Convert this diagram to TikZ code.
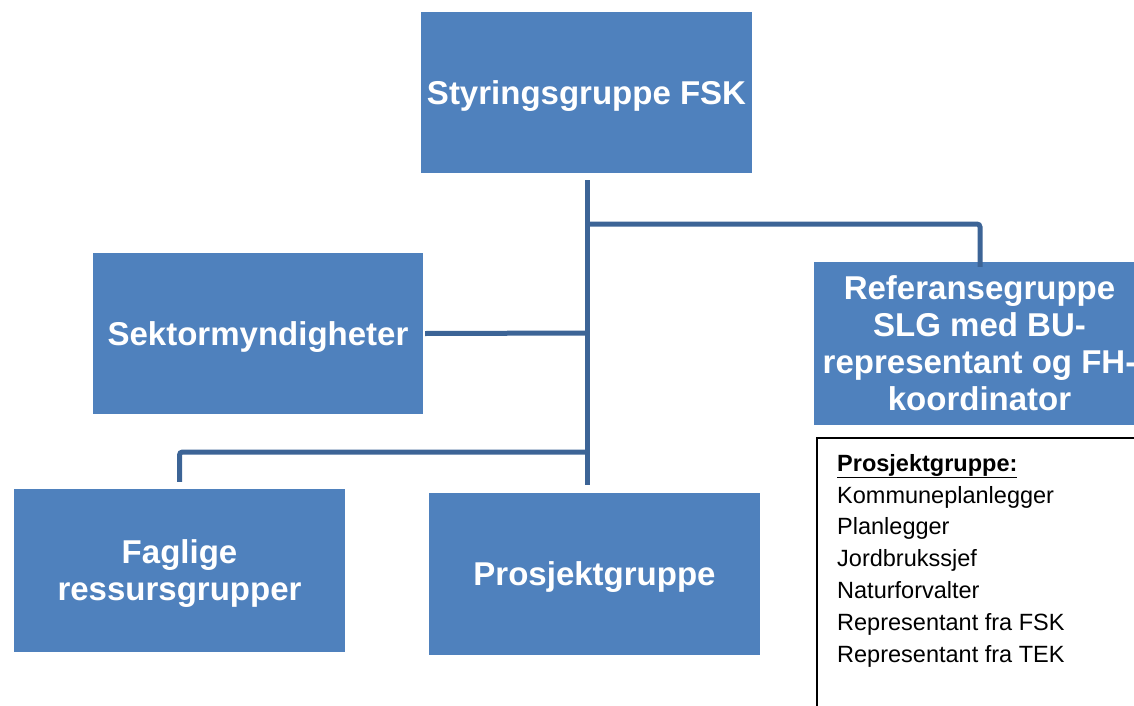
\documentclass[tikz,border=0pt]{standalone}
\usepackage{fontspec}
\setmainfont{Liberation Sans}
\definecolor{boxblue}{HTML}{4F81BD}
\definecolor{linkblue}{HTML}{3C6496}
\begin{document}
\begin{tikzpicture}[x=1pt,y=-1pt,
  orgbox/.style={rectangle, fill=boxblue, draw=none, text=white, align=center,
    font=\fontsize{33}{37}\selectfont\bfseries, inner sep=0pt, text depth=0pt},
  conn/.style={draw=linkblue, line width=5pt, rounded corners=3pt},
  listbox/.style={draw=black, line width=1.8pt, fill=white}]
\useasboundingbox (0,0) rectangle (1134,706);
\clip (0,0) rectangle (1134,706);
\node[orgbox, minimum width=331pt, minimum height=161pt] (top) at (586.5,92.5) {Styringsgruppe FSK};
\node[orgbox, minimum width=330pt, minimum height=161pt] (sektor) at (258,333.5) {Sektormyndigheter};
\node[orgbox, minimum width=331pt, minimum height=163pt] (ref) at (979.5,343.5) {Referansegruppe\\SLG med BU-\\representant og FH-\\koordinator};
\node[orgbox, minimum width=331pt, minimum height=163pt] (fag) at (179.5,570.5) {Faglige\\ressursgrupper};
\node[orgbox, minimum width=331pt, minimum height=162pt] (proj) at (594.5,574) {Prosjektgruppe};
% list box
\node[listbox, anchor=north west, minimum width=340pt, minimum height=290pt] (list) at (816,437) {};
\node[anchor=north west, align=left, inner sep=0pt, font=\fontsize{23.5}{31.8}\selectfont] (listtext) at (837,454)
  {\textbf{\underline{Prosjektgruppe:}}\\Kommuneplanlegger\\Planlegger\\Jordbrukssjef\\Naturforvalter\\Representant fra FSK\\Representant fra TEK};
% connectors
\coordinate (trunkTop) at (587,180);
\coordinate (trunkBot) at (587,485);
\coordinate (jr) at (587,224);
\coordinate (js) at (587,333);
\coordinate (jl) at (587,452);
\draw[conn] (trunkTop) -- (trunkBot);
\draw[conn] (jr) -| ([yshift=-5pt]ref.north -| 980,0);
\draw[conn] (sektor.east) ++(2,0) -- (js);
\draw[conn] (jl) -| ([yshift=7pt]fag.north);
\end{tikzpicture}
\end{document}
